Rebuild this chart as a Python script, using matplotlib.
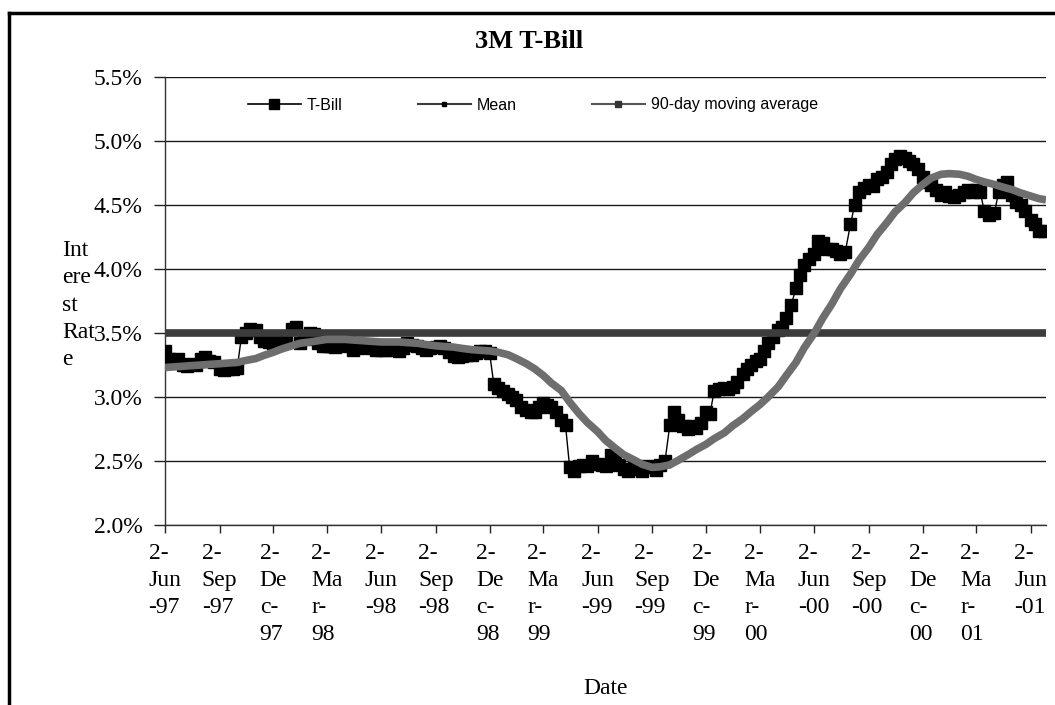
import numpy as np
import pandas as pd
import matplotlib
matplotlib.use('Agg')
from matplotlib import pyplot as plt
from matplotlib.lines import Line2D

#%% Data
months = pd.date_range('1997-06-01', periods=49, freq='MS')
week_offsets = [1, 8, 15, 23]
half_offsets = [1, 15]

# T-Bill rate (%), four readings per month, Jun-97 .. Jun-01
tbill_rate = [
    3.36, 3.30, 3.27, 3.30,   # Jun-97
    3.25, 3.24, 3.26, 3.25,
    3.30, 3.31, 3.28, 3.27,
    3.22, 3.21, 3.22, 3.22,   # Sep-97
    3.23, 3.47, 3.50, 3.53,
    3.52, 3.47, 3.44, 3.43,
    3.42, 3.43, 3.42, 3.44,   # Dec-97
    3.53, 3.55, 3.42, 3.45,
    3.50, 3.49, 3.42, 3.40,
    3.40, 3.40, 3.39, 3.41,   # Mar-98
    3.40, 3.46, 3.37, 3.38,
    3.41, 3.40, 3.38, 3.37,
    3.37, 3.37, 3.38, 3.37,   # Jun-98
    3.36, 3.38, 3.42, 3.41,
    3.40, 3.38, 3.37, 3.38,
    3.39, 3.40, 3.38, 3.35,   # Sep-98
    3.32, 3.31, 3.32, 3.33,
    3.33, 3.34, 3.36, 3.36,
    3.34, 3.10, 3.07, 3.05,   # Dec-98
    3.02, 3.00, 2.98, 2.92,
    2.90, 2.88, 2.88, 2.92,
    2.95, 2.94, 2.92, 2.88,   # Mar-99
    2.82, 2.78, 2.45, 2.42,
    2.46, 2.47, 2.46, 2.50,
    2.48, 2.47, 2.46, 2.55,   # Jun-99
    2.52, 2.47, 2.44, 2.42,
    2.45, 2.44, 2.42, 2.46,
    2.45, 2.43, 2.47, 2.50,   # Sep-99
    2.78, 2.88, 2.82, 2.77,
    2.75, 2.77, 2.76, 2.80,
    2.88, 2.87, 3.05, 3.06,   # Dec-99
    3.07, 3.06, 3.08, 3.12,
    3.18, 3.22, 3.25, 3.28,
    3.30, 3.36, 3.42, 3.47,   # Mar-00
    3.52, 3.55, 3.62, 3.72,
    3.85, 3.95, 4.03, 4.08,
    4.12, 4.22, 4.20, 4.16,   # Jun-00
    4.16, 4.14, 4.12, 4.13,
    4.35, 4.50, 4.60, 4.63,
    4.66, 4.65, 4.70, 4.72,   # Sep-00
    4.76, 4.82, 4.86, 4.88,
    4.87, 4.84, 4.82, 4.78,
    4.72, 4.68, 4.66, 4.62,   # Dec-00
    4.58, 4.60, 4.57, 4.56,
    4.58, 4.60, 4.62, 4.60,
    4.62, 4.60, 4.45, 4.42,   # Mar-01
    4.44, 4.60, 4.66, 4.68,
    4.58, 4.52, 4.50, 4.45,
    4.38, 4.35, 4.30, 4.30,   # Jun-01
]
tbill_dates = [m + pd.Timedelta(days=d) for m in months for d in week_offsets]

# 90-day moving average (%), two readings per month + end of chart
ma_rate = [
    3.23, 3.235, 3.24, 3.245, 3.25, 3.255,   # Jun-97 .. Aug-97
    3.26, 3.265, 3.27, 3.285, 3.30, 3.325,   # Sep-97 .. Nov-97
    3.35, 3.375, 3.40, 3.42, 3.43, 3.44,     # Dec-97 .. Feb-98
    3.45, 3.45, 3.45, 3.445, 3.44, 3.435,    # Mar-98 .. May-98
    3.43, 3.43, 3.43, 3.425, 3.42, 3.41,     # Jun-98 .. Aug-98
    3.40, 3.395, 3.39, 3.38, 3.37, 3.365,    # Sep-98 .. Nov-98
    3.36, 3.35, 3.33, 3.30, 3.26, 3.22,      # Dec-98 .. Feb-99
    3.17, 3.11, 3.05, 2.96, 2.87, 2.80,      # Mar-99 .. May-99
    2.73, 2.66, 2.60, 2.55, 2.51, 2.475,     # Jun-99 .. Aug-99
    2.45, 2.455, 2.47, 2.505, 2.55, 2.59,    # Sep-99 .. Nov-99
    2.63, 2.675, 2.72, 2.775, 2.83, 2.885,   # Dec-99 .. Feb-00
    2.94, 3.00, 3.08, 3.17, 3.27, 3.385,     # Mar-00 .. May-00
    3.50, 3.615, 3.73, 3.845, 3.96, 4.065,   # Jun-00 .. Aug-00
    4.17, 4.27, 4.36, 4.445, 4.52, 4.595,    # Sep-00 .. Nov-00
    4.66, 4.71, 4.74, 4.745, 4.74, 4.725,    # Dec-00 .. Feb-01
    4.70, 4.68, 4.66, 4.64, 4.62, 4.595,     # Mar-01 .. May-01
    4.57, 4.55,                              # Jun-01
    4.54,
]
ma_dates = [m + pd.Timedelta(days=d) for m in months for d in half_offsets] \
    + [pd.Timestamp('2001-06-28')]

mean_rate = 3.5

x_start = pd.Timestamp('1997-06-02')
x_end = pd.Timestamp('2001-06-28')

tick_dates = pd.to_datetime([
    '1997-06-02', '1997-09-02', '1997-12-02', '1998-03-02', '1998-06-02',
    '1998-09-02', '1998-12-02', '1999-03-02', '1999-06-02', '1999-09-02',
    '1999-12-02', '2000-03-02', '2000-06-02', '2000-09-02', '2000-12-02',
    '2001-03-02', '2001-06-02'])
tick_labels = [
    '2-\nJun\n-97', '2-\nSep\n-97', '2-\nDe\nc-\n97', '2-\nMa\nr-\n98', '2-\nJun\n-98',
    '2-\nSep\n-98', '2-\nDe\nc-\n98', '2-\nMa\nr-\n99', '2-\nJun\n-99', '2-\nSep\n-99',
    '2-\nDe\nc-\n99', '2-\nMa\nr-\n00', '2-\nJun\n-00', '2-\nSep\n-00', '2-\nDe\nc-\n00',
    '2-\nMa\nr-\n01', '2-\nJun\n-01']
y_ticks = [2.0, 2.5, 3.0, 3.5, 4.0, 4.5, 5.0, 5.5]

#%% Plot
W, H = 1055, 705
serif = 'Liberation Serif'
sans = 'Liberation Sans'
fs = 17

fig = plt.figure(figsize=(W / 100, H / 100), dpi=100)
ax = fig.add_axes([165 / W, 1 - 525 / H, 881 / W, 448 / H])

ax.plot(tbill_dates, tbill_rate, color='black', lw=1, marker='s', ms=8,
        mec='black', mfc='black', zorder=3)
ax.plot([x_start, x_end], [mean_rate, mean_rate], color='#3c3c3c', lw=5.5,
        solid_capstyle='butt', zorder=4)
ax.plot(ma_dates, ma_rate, color='#6e6e6e', lw=5.5, solid_capstyle='butt',
        solid_joinstyle='round', zorder=5)

ax.set_xlim(x_start, x_end)
ax.set_ylim(2.0, 5.5)
ax.set_yticks(y_ticks)
ax.set_yticklabels(['%.1f%%' % v for v in y_ticks], fontsize=fs, family=serif)
ax.set_xticks(tick_dates)
ax.set_xticklabels(tick_labels, fontsize=fs, family=serif, ha='center',
                   multialignment='left', linespacing=1.38)
ax.tick_params(axis='y', direction='out', length=8, width=1, pad=8, color='#222222')
ax.tick_params(axis='x', direction='out', length=6, width=1, pad=7, color='#222222')

ax.grid(axis='y', color='#1a1a1a', lw=1)
ax.set_axisbelow(True)
for side in ['top', 'right']:
    ax.spines[side].set_visible(False)
for side in ['left', 'bottom']:
    ax.spines[side].set_color('#333333')
    ax.spines[side].set_linewidth(1)

ax.set_xlabel('Date', fontsize=fs, family=serif)
ax.xaxis.set_label_coords(0.5, (1 - 688 / H - (1 - 525 / H)) / (448 / H))
ax.xaxis.label.set_va('center')

fig.text(62 / W, 1 - 305 / H, 'Int\nere\nst\nRat\ne', fontsize=fs, family=serif,
         ha='left', va='center', multialignment='left', linespacing=1.38)
fig.text(529 / W, 1 - 42 / H, '3M T-Bill', fontsize=19, family=serif,
         fontweight='bold', ha='center', va='center')

handles = [
    Line2D([], [], color='black', lw=1.2, marker='s', ms=7, mfc='black', mec='black'),
    Line2D([], [], color='#3c3c3c', lw=1.5, marker='s', ms=3, mfc='black', mec='black'),
    Line2D([], [], color='#555555', lw=1.5, marker='s', ms=4.5, mfc='#333333', mec='#333333'),
]
ax.legend(handles, ['T-Bill', 'Mean', '90-day moving average'], ncol=3,
          loc='center left', bbox_to_anchor=(248 / W, 1 - 105 / H),
          bbox_transform=fig.transFigure, frameon=False, borderpad=0,
          borderaxespad=0, handlelength=3.3, handletextpad=0.4,
          columnspacing=4.7, prop={'family': sans, 'size': 11.5})

# outer chart frame (cropped on right and bottom)
fig.add_artist(Line2D([9 / W, 9 / W], [0, 1 - 13 / H], color='black', lw=2.5,
                      transform=fig.transFigure))
fig.add_artist(Line2D([9 / W, 1], [1 - 13 / H, 1 - 13 / H], color='black', lw=2.5,
                      transform=fig.transFigure))

plt.savefig('out.png', dpi=100)
